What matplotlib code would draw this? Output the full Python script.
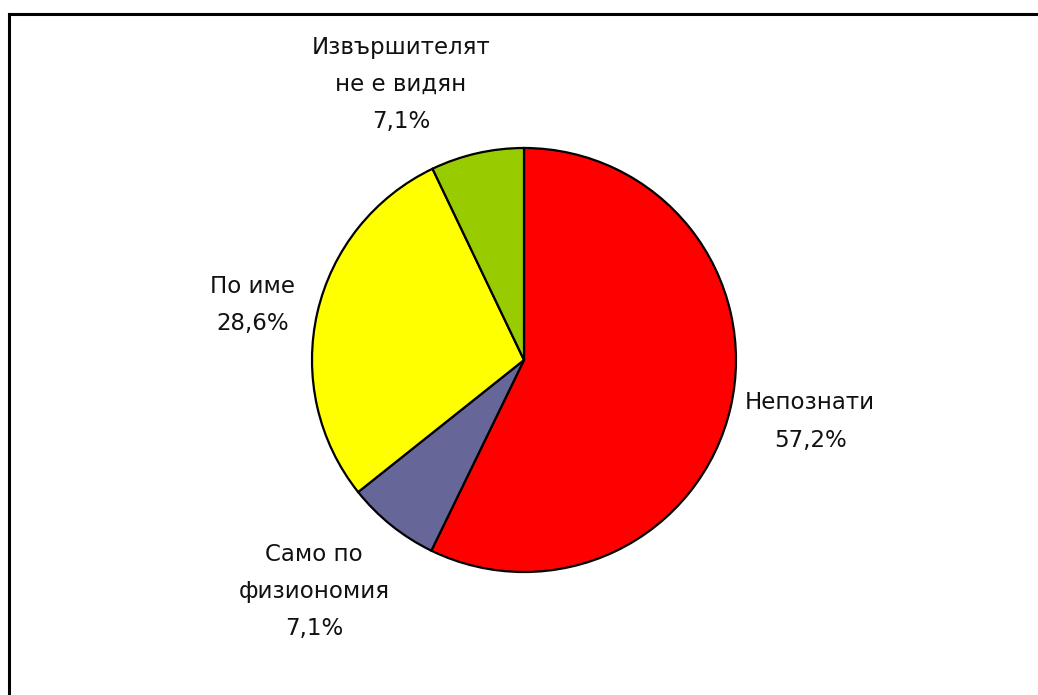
import matplotlib
matplotlib.use('Agg')
from matplotlib import pyplot as plt
from matplotlib.lines import Line2D

# slices, clockwise from 12 o'clock
names = ['Непознати', 'Само по\nфизиономия', 'По име', 'Извършителят\nне е видян']
shares = [57.2, 7.1, 28.6, 7.1]
colors = ['#FF0000', '#666699', '#FFFF00', '#99CC00']

# where each label sits, in pie radius units
label_pos = [(1.35, -0.29), (-0.99, -1.09), (-1.28, 0.26), (-0.58, 1.30)]

W, H = 1038, 695
fig = plt.figure(figsize=(W / 100, H / 100), dpi=100)
fig.patch.set_facecolor('white')

# pie: centre (524, 360) px, radius 212 px
cx, cy, r = 524, 360, 212
ax = fig.add_axes([(cx - r) / W, (H - cy - r) / H, 2 * r / W, 2 * r / H])
wedges, _ = ax.pie(shares, colors=colors, startangle=90, counterclock=False,
                   radius=1.0, wedgeprops=dict(edgecolor='black', linewidth=1.6))
ax.set_xlim(-1, 1)
ax.set_ylim(-1, 1)
ax.set_aspect('auto')
ax.axis('off')

for name, val, (lx, ly) in zip(names, shares, label_pos):
    txt = name + '\n' + ('%.1f' % val).replace('.', ',') + '%'
    ax.text(lx, ly, txt, ha='center', va='center', fontsize=16.5,
            family='DejaVu Sans', color='#111111', linespacing=1.78,
            clip_on=False)

# chart area border (only left and top edges show)
fig.add_artist(Line2D([8.5 / W, 8.5 / W], [0, 1 - 13.5 / H], color='black',
                      linewidth=2.2, transform=fig.transFigure))
fig.add_artist(Line2D([8.5 / W, 1], [1 - 13.5 / H, 1 - 13.5 / H], color='black',
                      linewidth=2.2, transform=fig.transFigure))

plt.savefig('out.png', dpi=100)
plt.close()
